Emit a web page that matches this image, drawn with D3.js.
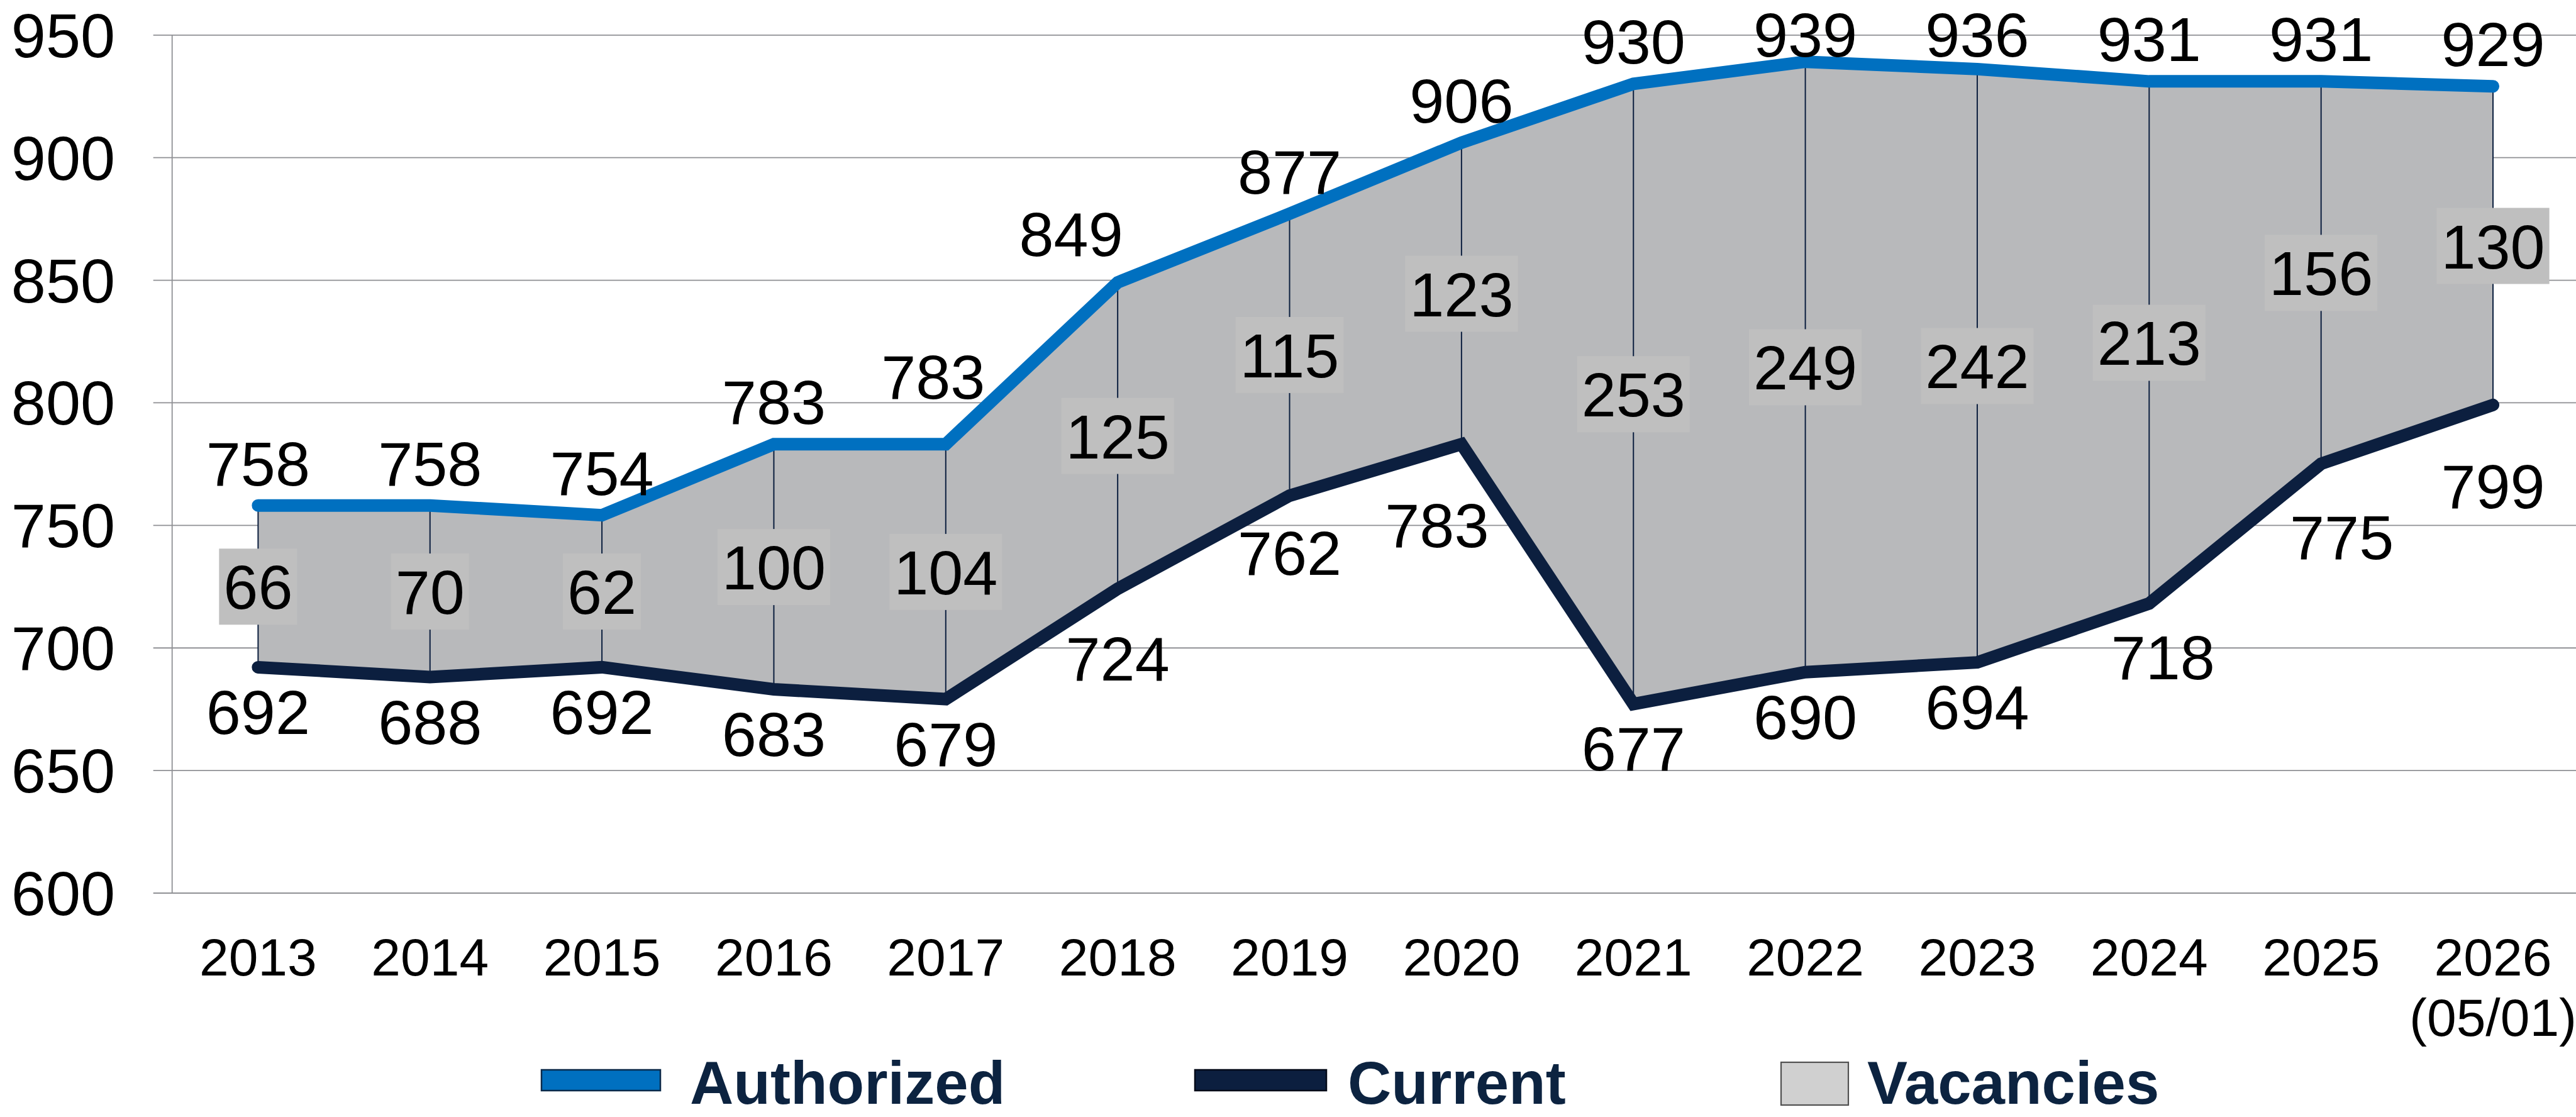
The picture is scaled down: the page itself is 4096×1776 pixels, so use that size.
<!DOCTYPE html>
<html>
<head>
<meta charset="utf-8">
<script src="https://cdn.jsdelivr.net/npm/d3@7"></script>
<style>
  html, body { margin: 0; padding: 0; background: #ffffff; }
  svg { display: block; }
  text { font-family: "Liberation Sans", Arial, sans-serif; }
</style>
</head>
<body>
<svg id="chart" width="4096" height="1776"></svg>
<script>
// ---------- data ----------
const categories = ["2013","2014","2015","2016","2017","2018","2019","2020","2021","2022","2023","2024","2025","2026"];
const tickLabels = [["2013"],["2014"],["2015"],["2016"],["2017"],["2018"],["2019"],["2020"],["2021"],["2022"],["2023"],["2024"],["2025"],["2026","(05/01)"]];
const authorized = [758,758,754,783,783,849,877,906,930,939,936,931,931,929];
const current    = [692,688,692,683,679,724,762,783,677,690,694,718,775,799];
const vacancies  = [66,70,62,100,104,125,115,123,253,249,242,213,156,130];
const yTicks = [600,650,700,750,800,850,900,950];
const seriesNames = ["Authorized","Current","Vacancies"];

// ---------- layout ----------
const W = 4096, H = 1776;
const plotLeft = 273.7, plotRight = 4100.7;
const yTop = 55.3, yBottom = 1419.5;
const tickLeft = 243.7;

const COL_AUTH = "#0070C0";
const COL_CURR = "#0C1F3F";
const COL_AREA = "#B8B9BB";
const COL_BOX  = "#BFBFBF";
const COL_GRID = "#8F9094";
const COL_LEG  = "#0C2340";

// label nudges (layout only)
const authNudge = { "2017": {dx: -20, dy: -72}, "2018": {dx: -74, dy: -42} };
const currNudge = { "2018": {dx: 0, dy: 146}, "2019": {dx: 0, dy: 126}, "2020": {dx: -39, dy: 164},
                    "2024": {dx: 22, dy: 120}, "2025": {dx: 33, dy: 152}, "2026": {dx: 0, dy: 164} };

const svg = d3.select("#chart");

const x = d3.scaleBand().domain(categories).range([plotLeft, plotRight]).padding(0);
const cx = c => x(c) + x.bandwidth() / 2;
const y = d3.scaleLinear().domain([600, 950]).range([yBottom, yTop]);

const rows = categories.map((c, i) => ({ c, i, a: authorized[i], cur: current[i], v: vacancies[i] }));

// ---------- gridlines + y labels ----------
const yAxis = d3.axisLeft(y)
  .tickValues(yTicks)
  .tickSize(-(W + 10 - tickLeft))
  .tickPadding(60.7)
  .tickFormat(d3.format("d"));

const gy = svg.append("g")
  .attr("transform", `translate(${tickLeft},0)`)
  .call(yAxis);
gy.select(".domain").remove();
gy.selectAll(".tick line").attr("stroke", COL_GRID).attr("stroke-width", 1.8);
gy.selectAll(".tick text")
  .attr("fill", "#000")
  .attr("font-size", 99)
  .attr("font-family", "'Liberation Sans', Arial, sans-serif")
  .attr("dy", null)
  .attr("y", 35);

// vertical y axis line
svg.append("line")
  .attr("x1", plotLeft).attr("x2", plotLeft)
  .attr("y1", y(950)).attr("y2", y(600))
  .attr("stroke", COL_GRID).attr("stroke-width", 1.8);

// ---------- x axis labels ----------
const xAxis = d3.axisBottom(x).tickSize(0).tickFormat(() => "");
const gx = svg.append("g").attr("transform", `translate(0,${yBottom})`).call(xAxis);
gx.select(".domain").remove();
gx.selectAll(".tick text").remove();
gx.selectAll(".tick").each(function(d, i) {
  const t = d3.select(this).append("text")
    .attr("text-anchor", "middle")
    .attr("fill", "#000")
    .attr("font-size", 84)
    .attr("font-family", "'Liberation Sans', Arial, sans-serif");
  tickLabels[i].forEach((line, k) => {
    t.append("tspan").attr("x", 0).attr("y", 131 + k * 96).text(line);
  });
});

// ---------- vacancy area ----------
const area = d3.area()
  .x(d => cx(d.c))
  .y0(d => y(d.cur))
  .y1(d => y(d.a));
svg.append("path").datum(rows)
  .attr("d", area)
  .attr("fill", COL_AREA);

// drop lines
svg.append("g").selectAll("line").data(rows).join("line")
  .attr("x1", d => cx(d.c)).attr("x2", d => cx(d.c))
  .attr("y1", d => y(d.a)).attr("y2", d => y(d.cur))
  .attr("stroke", COL_CURR).attr("stroke-width", 2);

// ---------- lines ----------
const lineA = d3.line().x(d => cx(d.c)).y(d => y(d.a));
const lineC = d3.line().x(d => cx(d.c)).y(d => y(d.cur));
svg.append("path").datum(rows).attr("d", lineC)
  .attr("fill", "none").attr("stroke", COL_CURR).attr("stroke-width", 20)
  .attr("stroke-linecap", "round").attr("stroke-linejoin", "miter");
svg.append("path").datum(rows).attr("d", lineA)
  .attr("fill", "none").attr("stroke", COL_AUTH).attr("stroke-width", 20)
  .attr("stroke-linecap", "round").attr("stroke-linejoin", "miter");

// ---------- vacancy labels ----------
const vg = svg.append("g").selectAll("g").data(rows).join("g")
  .attr("transform", d => `translate(${cx(d.c)},${y((d.a + d.cur) / 2)})`);
vg.each(function(d) {
  const g = d3.select(this);
  const rect = g.append("rect").attr("fill", COL_BOX);
  const t = g.append("text")
    .attr("text-anchor", "middle")
    .attr("font-size", 99)
    .attr("fill", "#000")
    .attr("y", 36)
    .text(d.v);
  const w = t.node().getComputedTextLength() + 14;
  rect.attr("x", -w / 2).attr("y", -60).attr("width", w).attr("height", 121);
});

// ---------- authorized labels ----------
svg.append("g").selectAll("text").data(rows).join("text")
  .attr("text-anchor", "middle")
  .attr("font-size", 99)
  .attr("fill", "#000")
  .attr("x", d => cx(d.c) + (authNudge[d.c] ? authNudge[d.c].dx : 0))
  .attr("y", d => Math.max(90, y(d.a) + (authNudge[d.c] ? authNudge[d.c].dy : -32)))
  .text(d => d.a);

// ---------- current labels ----------
svg.append("g").selectAll("text").data(rows).join("text")
  .attr("text-anchor", "middle")
  .attr("font-size", 99)
  .attr("fill", "#000")
  .attr("x", d => cx(d.c) + (currNudge[d.c] ? currNudge[d.c].dx : 0))
  .attr("y", d => y(d.cur) + (currNudge[d.c] ? currNudge[d.c].dy : 106))
  .text(d => d.cur);

// ---------- legend ----------
const leg = svg.append("g");
const legItems = [
  { name: seriesNames[0], sx: 861, sw: 189, sy: 1701, sh: 33, fill: COL_AUTH, stroke: "#0B2A4A", sWidth: 2.5, tx: 1097 },
  { name: seriesNames[1], sx: 1900, sw: 209, sy: 1701, sh: 33, fill: COL_CURR, stroke: "#050B18", sWidth: 2.5, tx: 2143 },
  { name: seriesNames[2], sx: 2832, sw: 107, sy: 1689, sh: 68, fill: "#D0D0D0", stroke: "#505050", sWidth: 2.2, tx: 2969 }
];
legItems.forEach(it => {
  leg.append("rect")
    .attr("x", it.sx).attr("y", it.sy).attr("width", it.sw).attr("height", it.sh)
    .attr("fill", it.fill).attr("stroke", it.stroke).attr("stroke-width", it.sWidth);
  leg.append("text")
    .attr("x", it.tx).attr("y", 1755)
    .attr("font-size", 96).attr("font-weight", "bold")
    .attr("fill", COL_LEG)
    .text(it.name);
});
</script>
</body>
</html>
